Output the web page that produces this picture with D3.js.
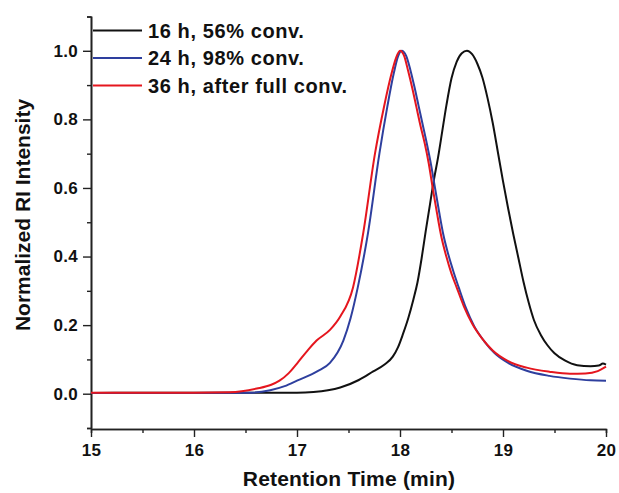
<!DOCTYPE html>
<html>
<head>
<meta charset="utf-8">
<script src="https://cdn.jsdelivr.net/npm/d3@7"></script>
<style>
  body { margin: 0; background: #fff; }
  svg text { font-family: "Liberation Sans", Arial, sans-serif; font-weight: bold; fill: #111; }
</style>
</head>
<body>
<svg id="chart" width="619" height="493"></svg>
<script>
// retention time (min) and normalized RI intensity
var black16h = [
  [15.0, 0.002], [15.7, 0.003], [16.5, 0.003], [17.0, 0.003], [17.16, 0.005],
  [17.3, 0.010], [17.42, 0.018], [17.6, 0.040], [17.74, 0.065], [17.85, 0.085],
  [17.93, 0.108], [17.98, 0.135], [18.03, 0.175], [18.08, 0.22], [18.13, 0.275],
  [18.17, 0.325], [18.21, 0.395], [18.25, 0.475], [18.29, 0.55], [18.33, 0.625],
  [18.37, 0.69], [18.41, 0.765], [18.45, 0.84], [18.50, 0.92], [18.55, 0.968],
  [18.60, 0.993], [18.65, 1.0], [18.70, 0.99], [18.75, 0.963], [18.80, 0.922],
  [18.85, 0.862], [18.90, 0.79], [18.95, 0.705], [19.00, 0.62], [19.05, 0.54],
  [19.10, 0.465], [19.15, 0.395], [19.20, 0.325], [19.25, 0.265], [19.30, 0.215],
  [19.37, 0.17], [19.43, 0.142], [19.50, 0.118], [19.60, 0.097], [19.72, 0.083],
  [19.85, 0.080], [19.93, 0.082], [19.97, 0.088], [20.0, 0.085]
];
var blue24h = [
  [15.0, 0.002], [16.0, 0.002], [16.55, 0.003], [16.74, 0.010], [16.88, 0.022],
  [17.0, 0.038], [17.2, 0.066], [17.32, 0.090], [17.45, 0.155], [17.52, 0.22],
  [17.59, 0.31], [17.69, 0.47], [17.80, 0.70], [17.877, 0.837], [17.94, 0.935],
  [17.98, 0.983], [18.016, 1.0], [18.06, 0.985], [18.10, 0.945], [18.14, 0.895],
  [18.18, 0.84], [18.22, 0.785], [18.26, 0.73], [18.30, 0.67], [18.34, 0.60],
  [18.38, 0.53], [18.42, 0.465], [18.47, 0.405], [18.52, 0.355], [18.57, 0.31],
  [18.64, 0.25], [18.72, 0.197], [18.82, 0.152], [18.92, 0.118], [19.05, 0.090],
  [19.23, 0.067], [19.45, 0.052], [19.65, 0.044], [19.85, 0.039], [20.0, 0.038]
];
var red36h = [
  [15.0, 0.003], [16.0, 0.003], [16.35, 0.004], [16.61, 0.015], [16.75, 0.026],
  [16.83, 0.038], [16.92, 0.060], [17.0, 0.088], [17.1, 0.125], [17.19, 0.155],
  [17.32, 0.186], [17.42, 0.225], [17.544, 0.31], [17.644, 0.47], [17.757, 0.70],
  [17.845, 0.837], [17.919, 0.935], [17.96, 0.978], [18.0, 1.0], [18.04, 0.985],
  [18.08, 0.94], [18.12, 0.89], [18.16, 0.835], [18.20, 0.78], [18.24, 0.73],
  [18.28, 0.67], [18.32, 0.595], [18.36, 0.525], [18.40, 0.46], [18.45, 0.40],
  [18.50, 0.35], [18.55, 0.31], [18.62, 0.255], [18.70, 0.205], [18.80, 0.16],
  [18.90, 0.126], [19.05, 0.095], [19.23, 0.076], [19.45, 0.064], [19.65, 0.058],
  [19.8, 0.059], [19.92, 0.066], [20.0, 0.079]
];
var seriesNames = ["16 h, 56% conv.", "24 h, 98% conv.", "36 h, after full conv."];
var seriesColors = ["#111111", "#2e3f9e", "#e5161e"];
var xTicks = [15, 16, 17, 18, 19, 20];
var yTicks = [0.0, 0.2, 0.4, 0.6, 0.8, 1.0];

var svg = d3.select("#chart");
var plotLeft = 91, plotRight = 606, plotTop = 16.5, plotBottom = 428, axisY = 429;

var x = d3.scaleLinear().domain([15, 20]).range([plotLeft, plotRight]);
var y = d3.scaleLinear().domain([-0.1, 1.1]).range([plotBottom, plotTop]);

// minor ticks first, then major axes on top
var xMinor = d3.axisBottom(x).tickValues(d3.range(15.5, 20, 1)).tickSize(4).tickFormat("");
var yMinor = d3.axisLeft(y).tickValues([-0.1, 0.1, 0.3, 0.5, 0.7, 0.9, 1.1]).tickSize(4).tickFormat("");

svg.append("g").attr("transform", "translate(0," + axisY + ")").call(xMinor);
svg.append("g").attr("transform", "translate(" + plotLeft + ",0)").call(yMinor);

var xAxis = svg.append("g")
  .attr("transform", "translate(0," + axisY + ")")
  .call(d3.axisBottom(x).tickValues(xTicks).tickSize(8).tickSizeOuter(0).tickPadding(7).tickFormat(d3.format("d")));
var yAxis = svg.append("g")
  .attr("transform", "translate(" + plotLeft + ",0)")
  .call(d3.axisLeft(y).tickValues(yTicks).tickSize(8).tickSizeOuter(0).tickPadding(5).tickFormat(d3.format(".1f")));

svg.selectAll(".domain").attr("stroke", "#222").attr("stroke-width", 1.6);
svg.selectAll(".tick line").attr("stroke", "#222").attr("stroke-width", 1.4);
svg.selectAll(".tick text").style("font-size", "17px").style("letter-spacing", "0.3px");

svg.append("text")
  .attr("x", 349)
  .attr("y", 486)
  .attr("text-anchor", "middle")
  .style("font-size", "21px")
  .style("letter-spacing", "0.2px")
  .text("Retention Time (min)");

svg.append("text")
  .attr("transform", "translate(30,215) rotate(-90)")
  .attr("text-anchor", "middle")
  .style("font-size", "21px")
  .text("Normalized RI Intensity");

var line = d3.line()
  .x(function (d) { return x(d[0]); })
  .y(function (d) { return y(d[1]); })
  .curve(d3.curveMonotoneX);

[black16h, blue24h, red36h].forEach(function (data, i) {
  svg.append("path")
    .datum(data)
    .attr("fill", "none")
    .attr("stroke", seriesColors[i])
    .attr("stroke-width", 2)
    .attr("d", line);
});

// legend
var legend = svg.append("g");
seriesNames.forEach(function (name, i) {
  var ly = 30.5 + i * 27.5;
  legend.append("line")
    .attr("x1", 93).attr("x2", 142)
    .attr("y1", ly).attr("y2", ly)
    .attr("stroke", seriesColors[i])
    .attr("stroke-width", 2.2);
  legend.append("text")
    .attr("x", 148)
    .attr("y", ly + 7.3)
    .style("font-size", "20px")
    .style("letter-spacing", "0.6px")
    .text(name);
});
</script>
</body>
</html>
